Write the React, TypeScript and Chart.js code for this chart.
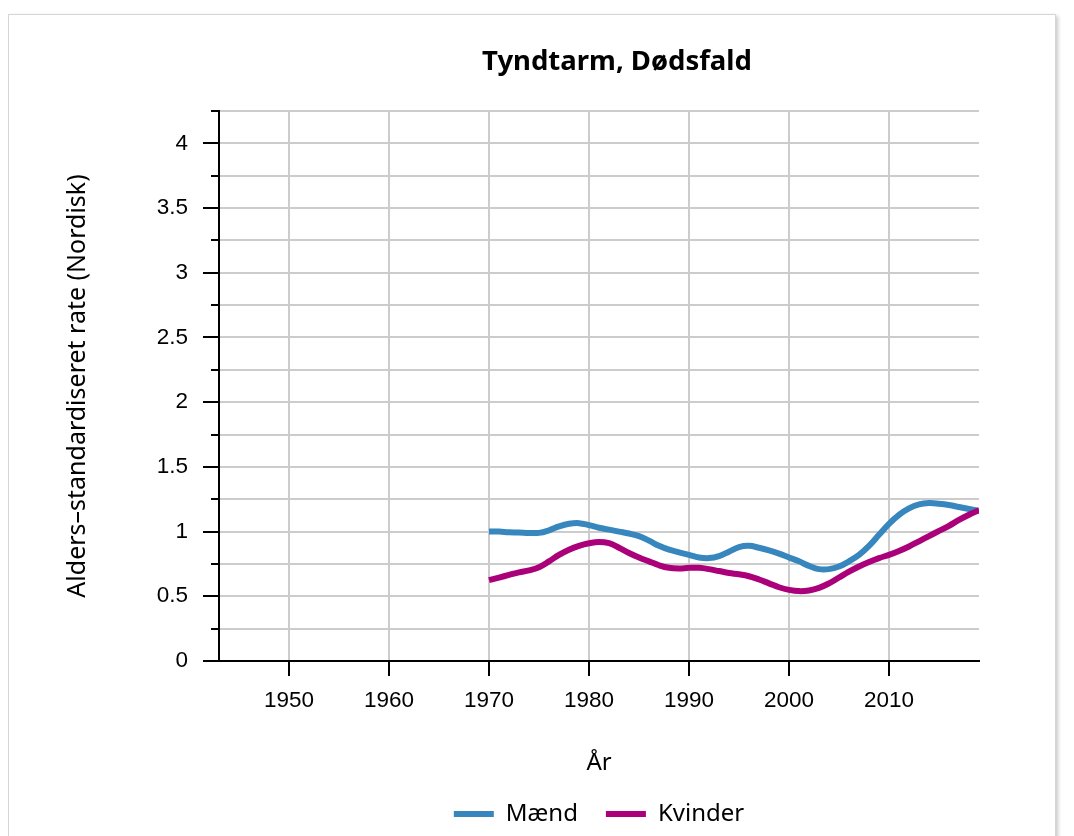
import React, { useEffect, useRef } from 'react';
import { Chart, registerables } from 'chart.js';

Chart.register(...registerables);

const years = [
  1970, 1971, 1972, 1973, 1974, 1975, 1976, 1977, 1978, 1979,
  1980, 1981, 1982, 1983, 1984, 1985, 1986, 1987, 1988, 1989,
  1990, 1991, 1992, 1993, 1994, 1995, 1996, 1997, 1998, 1999,
  2000, 2001, 2002, 2003, 2004, 2005, 2006, 2007, 2008, 2009,
  2010, 2011, 2012, 2013, 2014, 2015, 2016, 2017, 2018, 2019,
];

const maend = [
  1.0, 1.0, 0.995, 0.993, 0.99, 0.99, 1.01, 1.04, 1.06, 1.065,
  1.05, 1.03, 1.015, 1.0, 0.985, 0.965, 0.93, 0.89, 0.86, 0.84,
  0.82, 0.8, 0.795, 0.81, 0.845, 0.88, 0.89, 0.875, 0.855, 0.83,
  0.8, 0.77, 0.735, 0.71, 0.71, 0.73, 0.77, 0.82, 0.89, 0.975,
  1.06, 1.13, 1.18, 1.21, 1.22, 1.215, 1.205, 1.19, 1.175, 1.16,
];

const kvinder = [
  0.625, 0.645, 0.665, 0.685, 0.7, 0.725, 0.77, 0.82, 0.86, 0.89,
  0.91, 0.92, 0.91, 0.875, 0.835, 0.8, 0.77, 0.74, 0.72, 0.715,
  0.72, 0.72, 0.71, 0.695, 0.68, 0.67, 0.655, 0.63, 0.6, 0.57,
  0.55, 0.54, 0.545, 0.565, 0.6, 0.645, 0.69, 0.73, 0.765, 0.795,
  0.82, 0.85, 0.885, 0.925, 0.965, 1.005, 1.045, 1.09, 1.13, 1.165,
];

const xTickValues = [1950, 1960, 1970, 1980, 1990, 2000, 2010];
const yTickValues = [0, 0.25, 0.5, 0.75, 1, 1.25, 1.5, 1.75, 2, 2.25, 2.5, 2.75, 3, 3.25, 3.5, 3.75, 4, 4.25];
const yTickLabels = ['0', '', '0.5', '', '1', '', '1.5', '', '2', '', '2.5', '', '3', '', '3.5', '', '4', ''];

const seriesNames = ['Mænd', 'Kvinder'];
const seriesColors = ['#3786be', '#aa0079'];

const titleText = 'Tyndtarm, Dødsfald';
const xTitle = 'År';
const yTitle = 'Alders–standardiseret rate (Nordisk)';

const tickMarks = {
  id: 'tickMarks',
  afterDraw(chart: any) {
    const { ctx, chartArea, scales } = chart;
    const xs = scales.x;
    const ys = scales.y;
    ctx.save();
    ctx.strokeStyle = '#000';
    ctx.lineWidth = 2;
    ys.ticks.forEach((t: any) => {
      const idx = yTickValues.indexOf(t.value);
      const len = yTickLabels[idx] ? 16 : 8;
      const py = Math.round(ys.getPixelForValue(t.value));
      ctx.beginPath();
      ctx.moveTo(chartArea.left - len, py);
      ctx.lineTo(chartArea.left, py);
      ctx.stroke();
    });
    xs.ticks.forEach((t: any) => {
      const px = Math.round(xs.getPixelForValue(t.value));
      ctx.beginPath();
      ctx.moveTo(px, chartArea.bottom);
      ctx.lineTo(px, chartArea.bottom + 15);
      ctx.stroke();
    });
    ctx.restore();
  },
};

const titleShift = {
  id: 'titleShift',
  afterLayout(chart: any) {
    const t = chart.titleBlock;
    if (t) {
      t.left += 36;
    }
  },
};

export default function App() {
  const ref = useRef<HTMLCanvasElement | null>(null);

  useEffect(() => {
    if (!ref.current) return;
    const chart = new Chart(ref.current, {
      type: 'line',
      data: {
        datasets: [
          {
            label: seriesNames[0],
            data: years.map((x, i) => ({ x, y: maend[i] })),
            borderColor: seriesColors[0],
            backgroundColor: seriesColors[0],
            borderWidth: 6,
            pointRadius: 0,
            tension: 0.4,
            order: 1,
          },
          {
            label: seriesNames[1],
            data: years.map((x, i) => ({ x, y: kvinder[i] })),
            borderColor: seriesColors[1],
            backgroundColor: seriesColors[1],
            borderWidth: 6,
            pointRadius: 0,
            tension: 0.4,
            order: 0,
          },
        ],
      },
      options: {
        animation: false,
        responsive: false,
        devicePixelRatio: 1,
        color: '#000',
        layout: { padding: { left: 0, right: 76, top: 0, bottom: 9 } },
        plugins: {
          title: {
            display: true,
            text: titleText,
            fullSize: false,
            color: '#000',
            font: { family: 'Noto Sans', size: 27.5, weight: 'bold', lineHeight: 1.2 },
            padding: { top: 31, bottom: 32 },
          },
          legend: {
            display: true,
            position: 'bottom',
            fullSize: false,
            labels: {
              boxWidth: 40,
              boxHeight: 6,
              padding: 28,
              color: '#000',
              font: { family: 'Noto Sans', size: 24 },
              sort: (a: any, b: any) => a.datasetIndex - b.datasetIndex,
              generateLabels: (chart: any) => {
                const items = Chart.defaults.plugins.legend.labels.generateLabels(chart);
                return items.map((it: any) => ({ ...it, lineWidth: 0 }));
              },
            },
          },
          tooltip: { enabled: false },
        },
        scales: {
          x: {
            type: 'linear',
            min: 1943,
            max: 2019,
            afterBuildTicks: (scale: any) => {
              scale.ticks = xTickValues.map((v) => ({ value: v }));
            },
            afterFit: (scale: any) => {
              scale.height = 113;
            },
            grid: { color: '#cccccc', lineWidth: 2, drawTicks: false },
            border: { color: '#000', width: 2 },
            ticks: {
              padding: 26,
              color: '#000',
              font: { family: 'Liberation Sans', size: 22.5 },
              maxRotation: 0,
              autoSkip: false,
              callback: (v: any) => String(v),
            },
            title: {
              display: true,
              text: xTitle,
              color: '#000',
              font: { family: 'Noto Sans', size: 24, lineHeight: 0.9 },
              padding: { top: 0, bottom: 0 },
            },
          },
          y: {
            type: 'linear',
            min: 0,
            max: 4.25,
            afterBuildTicks: (scale: any) => {
              scale.ticks = yTickValues.map((v) => ({ value: v }));
            },
            afterFit: (scale: any) => {
              scale.width = 210;
            },
            grid: { color: '#cccccc', lineWidth: 2, drawTicks: false },
            border: { color: '#000', width: 2 },
            ticks: {
              padding: 31,
              color: '#000',
              font: { family: 'Liberation Sans', size: 22.5 },
              autoSkip: false,
              callback: (v: any) => {
                const idx = yTickValues.indexOf(v);
                return idx >= 0 ? yTickLabels[idx] : '';
              },
            },
            title: {
              display: true,
              text: yTitle,
              color: '#000',
              font: { family: 'Noto Sans', size: 25, lineHeight: 1.2 },
              padding: { top: 54, bottom: 0 },
            },
          },
        },
      },
      plugins: [tickMarks, titleShift],
    } as any);
    return () => chart.destroy();
  }, []);

  return (
    <div style={{ paddingTop: 6 }}>
      <div
        style={{
          width: 1046,
          border: '1px solid #d6d6d6',
          boxShadow: '2px 2px 4px rgba(0,0,0,0.22)',
          background: '#fff',
        }}
      >
        <canvas ref={ref} width={1046} height={830} style={{ display: 'block' }} />
      </div>
    </div>
  );
}
